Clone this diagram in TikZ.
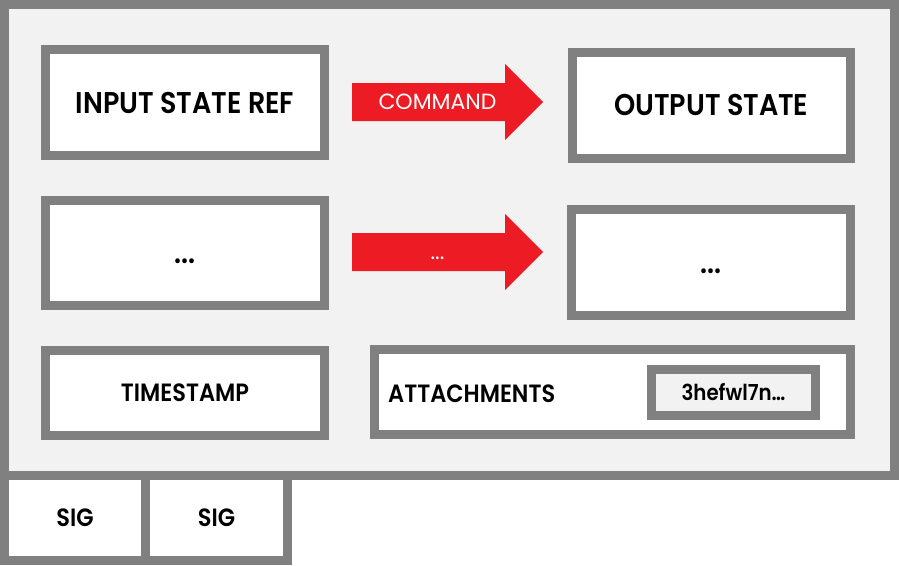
\documentclass[tikz,border=0pt]{standalone}
\usepackage{fontspec}
\setmainfont{Poppins}[BoldFont={Poppins SemiBold}, BoldFeatures={FakeStretch=0.9}]

\definecolor{framegray}{HTML}{808080}
\definecolor{panelgray}{HTML}{F2F2F2}
\definecolor{cmdred}{HTML}{ED1C24}

\tikzset{
  frame/.style={draw=framegray, line width=9pt},
  field/.style={frame, fill=white, inner sep=0pt, text depth=0pt},
  bigfont/.style={font=\fontsize{30}{30}\selectfont\bfseries, text height=21pt},
  midfont/.style={font=\fontsize{25}{25}\selectfont\bfseries, text height=17.5pt},
  smallfont/.style={font=\fontsize{22}{22}\selectfont\bfseries, text height=15.4pt},
  cmdlabel/.style={text=white, inner sep=0pt, text height=15.4pt, text depth=0pt, font=\fontsize{22}{22}\selectfont},
}

\begin{document}
\begin{tikzpicture}[x=1pt,y=-1pt]
  \useasboundingbox (0,0) rectangle (899,565);
  \fill[white] (0,0) rectangle (899,565);
  % transaction frame
  \draw[frame, fill=panelgray] (4.5,4.5) rectangle (894.5,475.5);
  % signatures
  \node[field, midfont, minimum width=141pt, minimum height=85pt] (sigA) at (75,518) {SIG};
  \node[field, midfont, minimum width=142pt, minimum height=85pt] (sigB) at (216.5,518) {SIG};
  % states
  \node[field, bigfont, minimum width=279pt, minimum height=106pt] (inref) at (185,102.5) {INPUT STATE REF};
  \node[field, bigfont, minimum width=278.5pt, minimum height=105.5pt] (outstate) at (711.25,105.25) {OUTPUT STATE};
  \node[field, bigfont, minimum width=279pt, minimum height=105pt] (inmore) at (185,253) {...};
  \node[field, bigfont, minimum width=279pt, minimum height=106pt] (outmore) at (711,262.5) {...};
  % commands
  \foreach \y/\nm/\lbl in {102/cmd/COMMAND, 252/cmdmore/{...}} {
    \fill[cmdred] (352,\y-19) -- (505,\y-19) -- (505,\y-38) -- (543,\y)
      -- (505,\y+38) -- (505,\y+19) -- (352,\y+19) -- cycle;
    \node[cmdlabel] (\nm) at (437.5,\y) {\lbl};
  }
  % timestamp and attachments
  \node[field, midfont, minimum width=279pt, minimum height=85pt] (timestamp) at (185,393) {TIMESTAMP};
  \node[field, minimum width=476pt, minimum height=84.5pt] (attach) at (612.5,392) {};
  \node[midfont, anchor=base west, inner sep=0pt] (attachlbl) at (388,402) {ATTACHMENTS};
  \node[field, smallfont, fill=panelgray, minimum width=164pt, minimum height=46pt] (hash) at (733.5,392.5) {3hefwl7n…};
\end{tikzpicture}
\end{document}
